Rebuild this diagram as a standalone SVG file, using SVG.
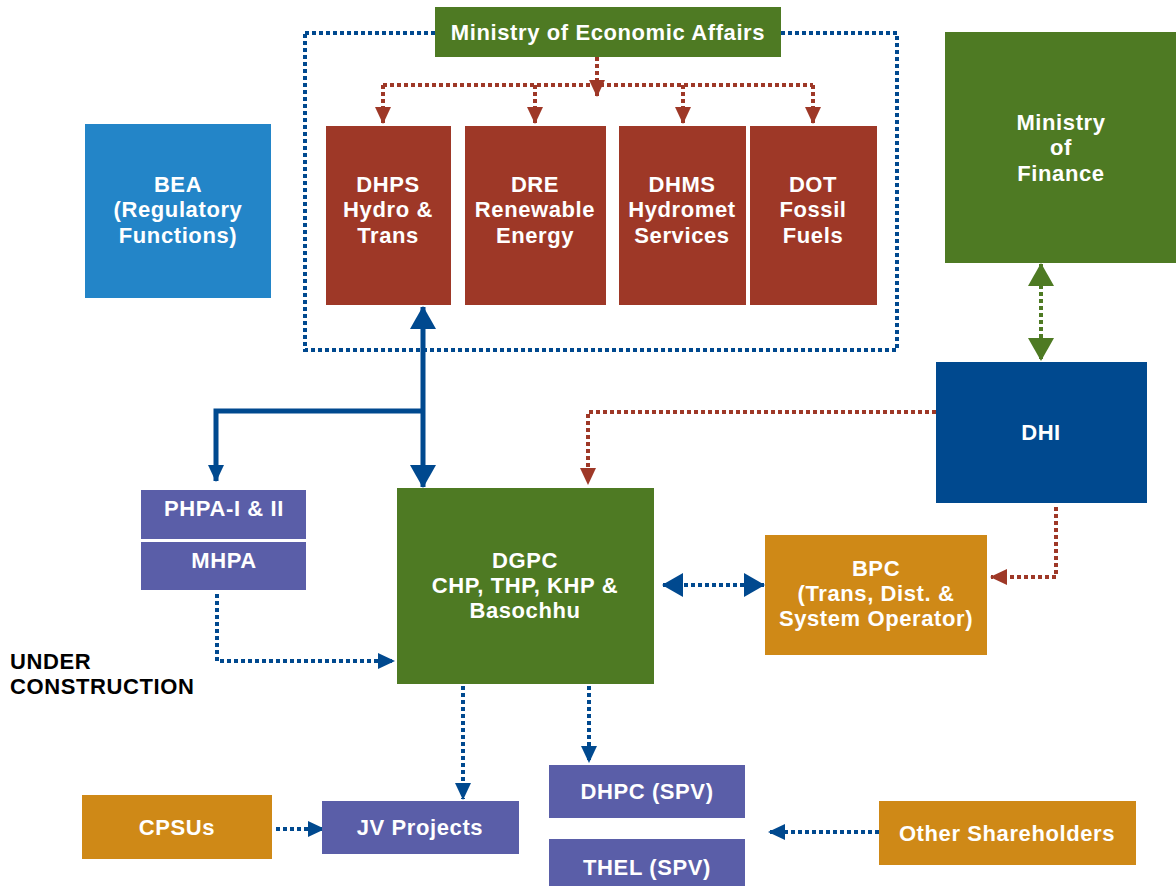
<svg xmlns="http://www.w3.org/2000/svg" width="1176" height="886" viewBox="0 0 1176 886">
<defs>
<style>
text{font-family:"Liberation Sans",Arial,sans-serif;font-weight:bold;font-size:22px;letter-spacing:0.6px;fill:#fff;text-anchor:middle}
.blk{fill:#000;text-anchor:start}
.green{fill:#4E7A23}
.red{fill:#9E3827}
.purple{fill:#5A5EA8}
.orange{fill:#CF8917}
.dblue{fill:#00498F}
.lblue{fill:#2385C8}
.dotb{fill:none;stroke:#00498F;stroke-width:4;stroke-dasharray:4 3}
.dotr{fill:none;stroke:#9E3827;stroke-width:4;stroke-dasharray:4 3}
.dotg{fill:none;stroke:#4E7A23;stroke-width:4;stroke-dasharray:4 3}
.solid{fill:none;stroke:#00498F;stroke-width:5}
</style>
<marker id="ab" markerUnits="userSpaceOnUse" markerWidth="18" markerHeight="18" viewBox="0 0 18 18" refX="16" refY="9" orient="auto-start-reverse"><path d="M0,1 L17,9 L0,17 Z" fill="#00498F"/></marker>
<marker id="ar" markerUnits="userSpaceOnUse" markerWidth="18" markerHeight="18" viewBox="0 0 18 18" refX="16" refY="9" orient="auto-start-reverse"><path d="M0,1 L17,9 L0,17 Z" fill="#9E3827"/></marker>
<marker id="ag" markerUnits="userSpaceOnUse" markerWidth="24" markerHeight="28" viewBox="0 0 24 28" refX="22" refY="14" orient="auto-start-reverse"><path d="M0,1 L23,14 L0,27 Z" fill="#4E7A23"/></marker>
<marker id="abig" markerUnits="userSpaceOnUse" markerWidth="24" markerHeight="28" viewBox="0 0 24 28" refX="22" refY="14" orient="auto-start-reverse"><path d="M0,1 L23,14 L0,27 Z" fill="#00498F"/></marker>
<marker id="abmed" markerUnits="userSpaceOnUse" markerWidth="22" markerHeight="26" viewBox="0 0 22 26" refX="20" refY="13" orient="auto-start-reverse"><path d="M0,1 L21,13 L0,25 Z" fill="#00498F"/></marker>
</defs>

<g id="connectors">
<rect class="dotb" x="305" y="33" width="592" height="317"/>
<path class="dotr" d="M597,57 V96" marker-end="url(#ar)"/>
<path class="dotr" d="M383,85 H813"/>
<path class="dotr" d="M383,85 V123" marker-end="url(#ar)"/>
<path class="dotr" d="M535,85 V123" marker-end="url(#ar)"/>
<path class="dotr" d="M683,85 V123" marker-end="url(#ar)"/>
<path class="dotr" d="M813,85 V123" marker-end="url(#ar)"/>
<path class="dotg" d="M1041,264 V360" marker-start="url(#ag)" marker-end="url(#ag)"/>
<path class="dotr" d="M936,412 H588 V484" marker-end="url(#ar)"/>
<path class="dotr" d="M1056,507 V577 H991" marker-end="url(#ar)"/>
<path class="solid" d="M423,307 V487" marker-start="url(#abig)" marker-end="url(#abig)"/>
<path class="solid" d="M423,411 H216 V481" marker-end="url(#ab)"/>
<path class="dotb" d="M663,585 H764" marker-start="url(#abmed)" marker-end="url(#abmed)"/>
<path class="dotb" d="M217,594 V661 H394" marker-end="url(#ab)"/>
<path class="dotb" d="M463,686 V799" marker-end="url(#ab)"/>
<path class="dotb" d="M589,686 V762" marker-end="url(#ab)"/>
<path class="dotb" d="M276,829 H324" marker-end="url(#ab)"/>
<path class="dotb" d="M879,832 H769" marker-end="url(#ab)"/>
</g>

<g id="moea"><rect class="green" x="435" y="7" width="346" height="50"/><text x="608" y="40">Ministry of Economic Affairs</text></g>
<g id="dhps"><rect class="red" x="326" y="126" width="125" height="179"/><text x="388" y="192">DHPS</text><text x="388" y="217">Hydro &amp;</text><text x="388" y="243">Trans</text></g>
<g id="dre"><rect class="red" x="465" y="126" width="141" height="179"/><text x="535" y="192">DRE</text><text x="535" y="217">Renewable</text><text x="535" y="243">Energy</text></g>
<g id="dhms"><rect class="red" x="619" y="126" width="127" height="179"/><text x="682" y="192">DHMS</text><text x="682" y="217">Hydromet</text><text x="682" y="243">Services</text></g>
<g id="dot"><rect class="red" x="750" y="126" width="127" height="179"/><text x="813" y="192">DOT</text><text x="813" y="217">Fossil</text><text x="813" y="243">Fuels</text></g>
<g id="bea"><rect class="lblue" x="85" y="124" width="186" height="174"/><text x="178" y="192">BEA</text><text x="178" y="217">(Regulatory</text><text x="178" y="243">Functions)</text></g>
<g id="mof"><rect class="green" x="945" y="32" width="231" height="231"/><text x="1061" y="130">Ministry</text><text x="1061" y="155">of</text><text x="1061" y="181">Finance</text></g>
<g id="dhi"><rect class="dblue" x="936" y="362" width="211" height="141"/><text x="1041" y="440">DHI</text></g>
<g id="bpc"><rect class="orange" x="765" y="535" width="222" height="120"/><text x="876" y="576">BPC</text><text x="876" y="601">(Trans, Dist. &amp;</text><text x="876" y="626">System Operator)</text></g>
<g id="dgpc"><rect class="green" x="397" y="488" width="257" height="196"/><text x="525" y="568">DGPC</text><text x="525" y="593">CHP, THP, KHP &amp;</text><text x="525" y="618">Basochhu</text></g>
<g id="phpa"><rect class="purple" x="141" y="490" width="165" height="49"/><text x="224" y="516">PHPA-I &amp; II</text></g>
<g id="mhpa"><rect class="purple" x="141" y="542" width="165" height="48"/><text x="224" y="568">MHPA</text></g>
<g id="under"><text class="blk" x="10" y="669">UNDER</text><text class="blk" x="10" y="694">CONSTRUCTION</text></g>
<g id="cpsus"><rect class="orange" x="82" y="795" width="190" height="64"/><text x="177" y="835">CPSUs</text></g>
<g id="jv"><rect class="purple" x="322" y="801" width="197" height="53"/><text x="420" y="835">JV Projects</text></g>
<g id="dhpc"><rect class="purple" x="549" y="765" width="196" height="53"/><text x="647" y="799">DHPC (SPV)</text></g>
<g id="thel"><rect class="purple" x="549" y="839" width="196" height="47"/><text x="647" y="875">THEL (SPV)</text></g>
<g id="other"><rect class="orange" x="879" y="801" width="257" height="64"/><text x="1007" y="841">Other Shareholders</text></g>
</svg>
